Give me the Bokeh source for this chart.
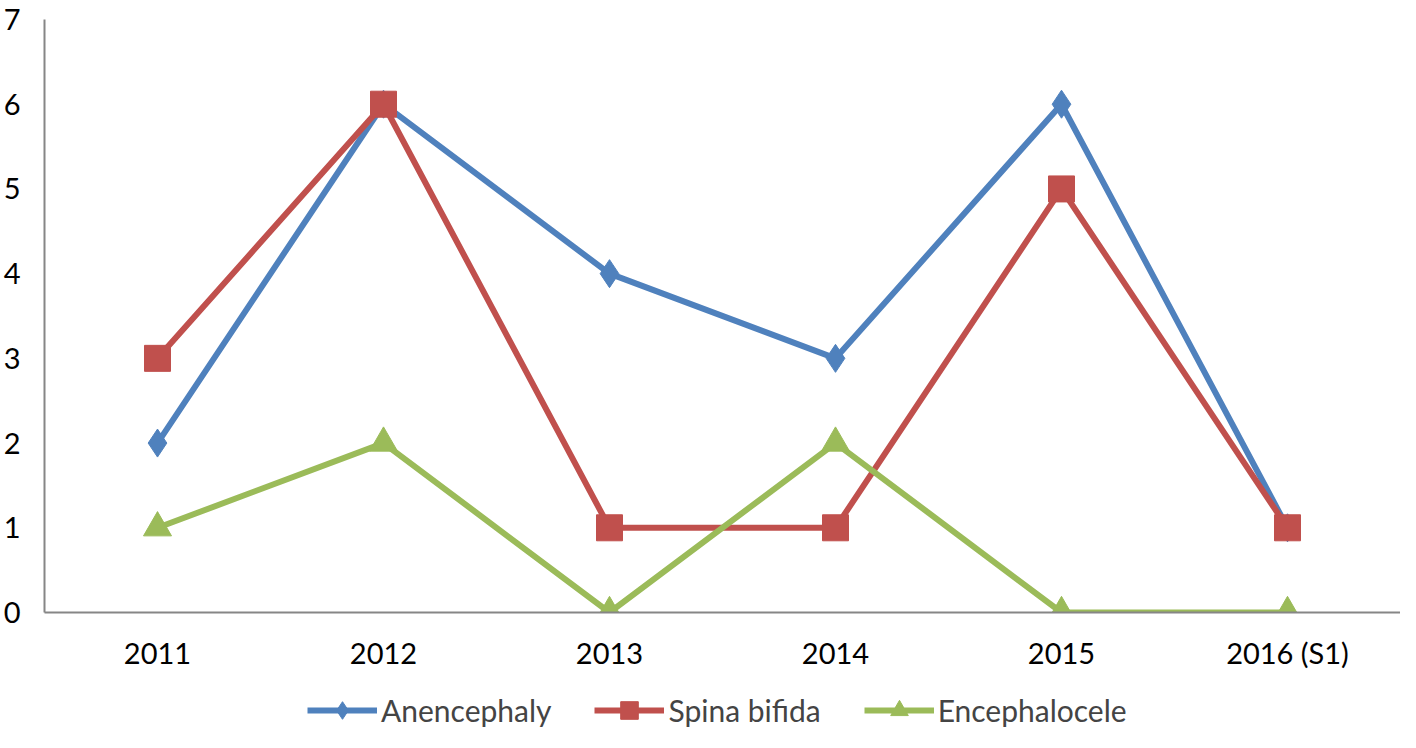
from bokeh.plotting import figure
from bokeh.layouts import column
from bokeh.models import Legend, LegendItem, Range1d
from bokeh.embed import file_html
from bokeh.resources import INLINE

years = ["2011", "2012", "2013", "2014", "2015", "2016 (S1)"]
anencephaly = [2, 6, 4, 3, 6, 1]
spina_bifida = [3, 6, 1, 1, 5, 1]
encephalocele = [1, 2, 0, 2, 0, 0]
series_names = ["Anencephaly", "Spina bifida", "Encephalocele"]
series_values = [anencephaly, spina_bifida, encephalocele]
colors = ["#4F81BD", "#C0504D", "#9BBB59"]
markers = ["diamond", "square", "triangle"]
marker_sizes = [28, 26, 28]

FONT = "Lato"

p = figure(x_range=years, y_range=Range1d(0, 7), width=1400, height=672,
           output_backend="svg", toolbar_location=None,
           min_border_left=37, min_border_right=0, min_border_top=19, min_border_bottom=56)
p.outline_line_color = None
p.grid.visible = False

for ax in (p.xaxis[0], p.yaxis[0]):
    ax.axis_line_color = "#868686"
    ax.axis_line_width = 2
    ax.major_tick_line_color = None
    ax.minor_tick_line_color = None
    ax.major_tick_out = 0
    ax.major_tick_in = 0
    ax.major_label_text_font = FONT
    ax.major_label_text_font_size = "29px"
    ax.major_label_text_color = "black"
p.xaxis.major_label_standoff = 22
p.yaxis.major_label_standoff = 20
p.yaxis.ticker.desired_num_ticks = 8

for name, vals, col, mk, sz in zip(series_names, series_values, colors, markers, marker_sizes):
    p.line(years, vals, line_color=col, line_width=6)
    p.scatter(years, vals, marker=mk, size=sz, fill_color=col, line_color=col)

# legend panel: same series drawn out of view, only the legend shows
lf = figure(x_range=years, y_range=Range1d(100, 101), width=1400, height=60,
            output_backend="svg", toolbar_location=None,
            x_axis_location=None, y_axis_location=None,
            min_border_left=0, min_border_right=0, min_border_top=0, min_border_bottom=0)
lf.outline_line_color = None
lf.grid.visible = False
items = []
for name, vals, col, mk, sz in zip(series_names, series_values, colors, markers, marker_sizes):
    l = lf.line(years, vals, line_color=col, line_width=6)
    s = lf.scatter(years, vals, marker=mk, size=sz, fill_color=col, line_color=col)
    items.append(LegendItem(label=name, renderers=[l, s]))
legend = Legend(items=items, orientation="horizontal", location=(263, 0),
                label_text_font=FONT, label_text_font_size="30px",
                glyph_width=70, glyph_height=44, label_standoff=4, spacing=43,
                padding=0, margin=0, border_line_color=None, background_fill_alpha=0)
lf.add_layout(legend, "center")

open("out.html", "w").write(file_html(column(p, lf, spacing=0), INLINE))
